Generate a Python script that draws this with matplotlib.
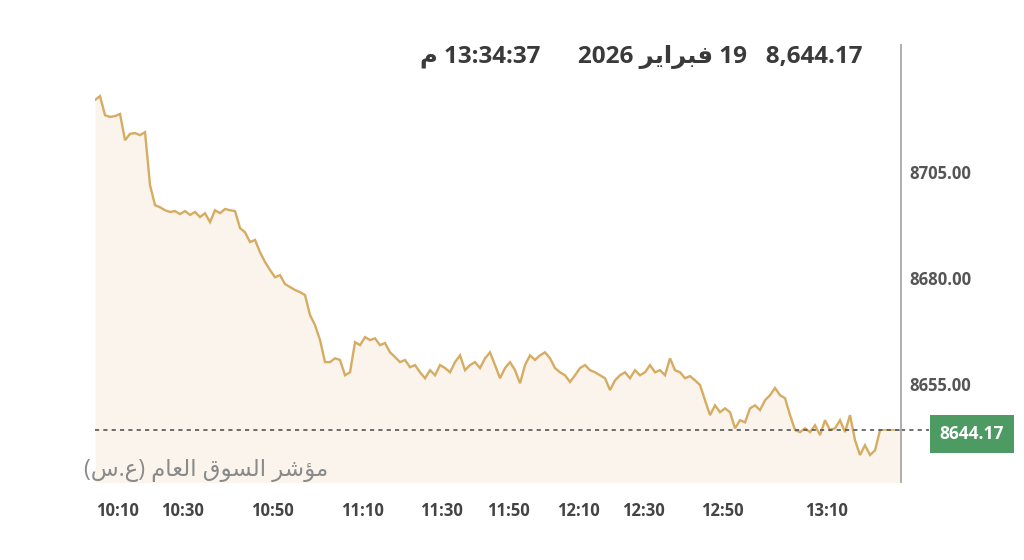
import matplotlib.pyplot as plt
import numpy as np

# index values sampled evenly along the session (TASI intraday)
values = [
    8722.0, 8722.9, 8718.4, 8718.0, 8718.2, 8718.7, 8712.5, 8714.0, 8714.2, 8713.7,
    8714.4, 8701.9, 8697.2, 8696.7, 8696.0, 8695.6, 8695.8, 8695.1, 8695.8, 8694.9,
    8695.6, 8694.4, 8695.3, 8693.2, 8696.0, 8695.3, 8696.3, 8696.0, 8695.8, 8691.8,
    8690.8, 8688.5, 8689.0, 8686.1, 8683.8, 8681.9, 8680.2, 8680.7, 8678.6, 8677.9,
    8677.2, 8676.7, 8676.0, 8671.3, 8668.9, 8665.4, 8660.2, 8660.2, 8661.1, 8660.7,
    8657.1, 8657.8, 8664.9, 8664.2, 8666.1, 8665.4, 8665.8, 8664.2, 8664.7, 8662.5,
    8661.4, 8660.2, 8660.7, 8659.0, 8659.5, 8657.8, 8656.4, 8658.3, 8657.1, 8659.5,
    8658.8, 8657.8, 8660.2, 8661.8, 8658.3, 8659.5, 8660.2, 8658.8, 8661.1, 8662.5,
    8659.5, 8656.4, 8658.8, 8660.2, 8658.3, 8655.2, 8659.5, 8661.8, 8660.7, 8661.8,
    8662.5, 8661.1, 8658.8, 8657.8, 8657.1, 8655.5, 8657.1, 8658.8, 8659.5, 8658.3,
    8657.8, 8657.1, 8656.4, 8653.6, 8655.9, 8657.1, 8657.8, 8656.4, 8658.3, 8657.1,
    8657.8, 8659.5, 8657.8, 8658.3, 8657.1, 8661.1, 8658.3, 8657.8, 8656.4, 8656.9,
    8655.9, 8654.8, 8651.2, 8647.7, 8650.0, 8648.4, 8649.3, 8648.4, 8644.6, 8646.5,
    8646.0, 8649.3, 8650.0, 8648.9, 8651.2, 8652.4, 8654.1, 8652.4, 8651.7, 8647.7,
    8644.2, 8643.7, 8644.6, 8643.7, 8645.3, 8643.0, 8646.5, 8644.2, 8644.6, 8646.5,
    8643.7, 8647.7, 8641.8, 8638.3, 8640.6, 8638.3, 8639.4, 8644.17,
]
last_value = 8644.17

tick_pos = [4.4, 17.4, 35.4, 53.4, 69.2, 82.6, 96.6, 109.6, 125.4, 146.2]
tick_labels = ["10:10", "10:30", "10:50", "11:10", "11:30", "11:50",
               "12:10", "12:30", "12:50", "13:10"]
y_ticks = [8655, 8680, 8705]

# arabic text in presentation forms, visual order (matplotlib has no shaping)
feb = "\ufeae\ufef3\ufe8d\ufeae\ufe92\ufed3"
header = "\ufee1 13:34:37      2026 " + feb + " 19   8,644.17"
index_name = ("(\ufeb1.\ufec9) "
              "\ufee1\ufe8e\ufecc\ufedf\ufe8d "
              "\ufed5\ufeee\ufeb4\ufedf\ufe8d "
              "\ufeae\ufeb7\ufe86\ufee3")

plt.rcParams['font.family'] = ['Open Sans', 'DejaVu Sans']

fig = plt.figure(figsize=(10.24, 5.6), dpi=100)
ax = fig.add_axes([0.0928, 0.139, 0.7871, 0.781])

x = np.arange(len(values))
x_end = 161.2
xs = np.append(x, x_end)
ys = np.append(values, last_value)

ax.fill_between(xs, ys, 8600, color='#faf4ed', lw=0)
ax.plot(x, values, color='#d6ac62', lw=1.7, solid_joinstyle='miter')
ax.plot([x[-1], x_end], [last_value, last_value], color='#d6ac62', lw=1.2)

ax.set_xlim(0, x_end)
ax.set_ylim(8631.9, 8735.0)

for s in ['top', 'left', 'bottom']:
    ax.spines[s].set_visible(False)
ax.spines['right'].set_color('#a8a8a8')
ax.spines['right'].set_linewidth(1.3)

ax.yaxis.tick_right()
ax.set_yticks(y_ticks)
ax.set_yticklabels([f"{v:.2f}" for v in y_ticks])
ax.tick_params(axis='y', length=0, pad=6, labelsize=12, labelcolor='#555555')
ax.set_xticks(tick_pos)
ax.set_xticklabels(tick_labels)
ax.tick_params(axis='x', length=0, pad=14, labelsize=12, labelcolor='#444444')
for lab in ax.get_xticklabels() + ax.get_yticklabels():
    lab.set_fontweight('bold')

# last value dashed line + badge
ax.axhline(last_value, color='#555555', lw=1.2, ls=(0, (2.5, 2.5)))
ax.plot([1.0, 1.035], [last_value, last_value], transform=ax.get_yaxis_transform(),
        color='#555555', lw=1.2, ls=(0, (2.5, 2.5)), clip_on=False)
fig.text(972 / 1024, 1 - 434 / 560, "8644.17", ha='center', va='center',
         fontsize=12.5, fontweight='bold', color='white',
         bbox=dict(boxstyle='square,pad=0.55', fc='#4e9a63', ec='none'))

fig.text(862 / 1024, 1 - 57 / 560, header, ha='right', va='center',
         fontsize=17.5, fontweight='bold', color='#3a3a3a')
fig.text(84 / 1024, 1 - 470 / 560, index_name, ha='left', va='center',
         fontsize=16.5, color='#8a8a8a')

fig.savefig('out.png', dpi=100, facecolor='white')
